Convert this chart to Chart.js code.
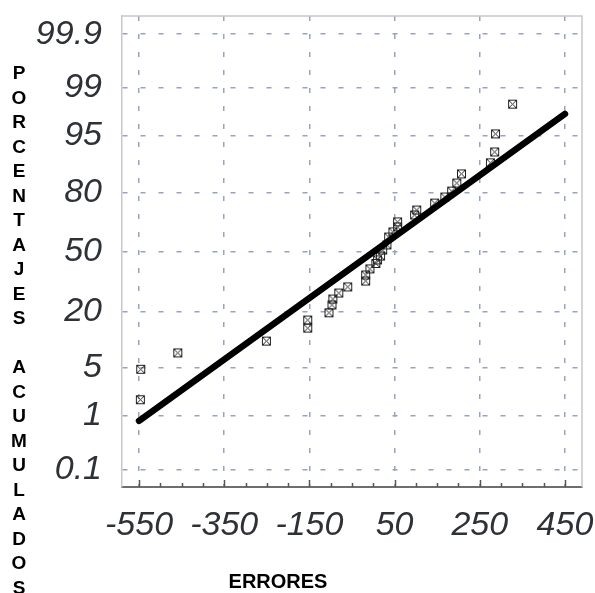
<!DOCTYPE html>
<html><head><meta charset="utf-8">
<script src="https://cdn.jsdelivr.net/npm/chart.js@4/dist/chart.umd.min.js"></script>
<style>html,body{margin:0;padding:0;background:#fff}#wrap{width:595px;height:593px;position:relative}</style>
</head><body><div id="wrap"><canvas id="c" width="595" height="593"></canvas></div>
<script>
// ---- data ----
const errores = [-547,-546,-459,-251,-154,-154,-104,-97,-95,-81,-60,-18,-18,-8,6,10,17,22,32,36,46,57,57,97,102,144,168,184,196,207,275,285,287,327];
const porcentajes = [1.8,4.8,7.6,10.3,14.0,16.7,19.4,22.6,25.2,28.0,31.0,34.0,37.2,40.5,43.5,45.5,47.7,51.1,54.0,58.4,61.2,63.9,66.5,70.0,72.4,75.6,78.2,80.6,83.6,86.6,89.7,92.2,95.3,98.2];
const lineaErrores = [-550, 450];
const lineaPorcentajes = [0.83, 97.5];
const yTickPercent = [0.1, 1, 5, 20, 50, 80, 95, 99, 99.9];
const yTickLabels = ['0.1', '1', '5', '20', '50', '80', '95', '99', '99.9'];
const xTickLabels = [-550, -350, -150, 50, 250, 450];
const xMinorStep = 50;
const xTitle = 'ERRORES';
const yTitle = 'PORCENTAJES ACUMULADOS';

// inverse normal CDF (probability-paper scale)
function probit(p){
  const a=[-3.969683028665376e+01,2.209460984245205e+02,-2.759285104469687e+02,1.383577518672690e+02,-3.066479806614716e+01,2.506628277459239e+00];
  const b=[-5.447609879822406e+01,1.615858368580409e+02,-1.556989798598866e+02,6.680131188771972e+01,-1.328068155288572e+01];
  const c=[-7.784894002430293e-03,-3.223964580411365e-01,-2.400758277161838e+00,-2.549732539343734e+00,4.374664141464968e+00,2.938163982698783e+00];
  const d=[7.784695709041462e-03,3.224671290700398e-01,2.445134137142996e+00,3.754408661907416e+00];
  const pl=0.02425, ph=1-pl; let q,r;
  if(p<pl){q=Math.sqrt(-2*Math.log(p));return (((((c[0]*q+c[1])*q+c[2])*q+c[3])*q+c[4])*q+c[5])/((((d[0]*q+d[1])*q+d[2])*q+d[3])*q+1);}
  if(p<=ph){q=p-0.5;r=q*q;return (((((a[0]*r+a[1])*r+a[2])*r+a[3])*r+a[4])*r+a[5])*q/(((((b[0]*r+b[1])*r+b[2])*r+b[3])*r+b[4])*r+1);}
  q=Math.sqrt(-2*Math.log(1-p));return -(((((c[0]*q+c[1])*q+c[2])*q+c[3])*q+c[4])*q+c[5])/((((d[0]*q+d[1])*q+d[2])*q+d[3])*q+1);
}

function makeMarker(){
  const c=document.createElement('canvas'); c.width=11; c.height=11;
  const g=c.getContext('2d');
  g.strokeStyle='#222'; g.lineWidth=1;
  g.strokeRect(1.5,1.5,8,8);
  g.beginPath(); g.moveTo(2,2); g.lineTo(9,9); g.moveTo(9,2); g.lineTo(2,9); g.stroke();
  return c;
}

const FONT='"Liberation Sans", Arial, Helvetica, sans-serif';
const GRID='#98a3c0';

const decor = {
  id:'decor',
  afterDraw(chart){
    const {ctx, chartArea:a, scales:{x}} = chart;
    ctx.save();
    ctx.strokeStyle='#c8c8c8'; ctx.lineWidth=1.5;
    ctx.beginPath(); ctx.moveTo(a.left,a.top); ctx.lineTo(a.right,a.top); ctx.lineTo(a.right,a.bottom); ctx.stroke();
    ctx.strokeStyle='#555'; ctx.lineWidth=1.5;
    x.ticks.forEach(t=>{
      const px=Math.round(x.getPixelForValue(t.value))+0.5;
      const len = xTickLabels.includes(t.value) ? 7 : 4;
      ctx.beginPath(); ctx.moveTo(px,a.bottom); ctx.lineTo(px,a.bottom-len); ctx.stroke();
    });
    ctx.fillStyle='#000'; ctx.textAlign='center'; ctx.textBaseline='alphabetic';
    ctx.font='bold 20px '+FONT;
    ctx.fillText(xTitle, 278, 588);
    ctx.font='bold 19px '+FONT;
    [...yTitle].forEach((ch,i)=>{ if(ch!==' ') ctx.fillText(ch, 19, 79 + i*24.5); });
    ctx.restore();
  }
};

new Chart(document.getElementById('c'), {
  type:'scatter',
  data:{datasets:[
    { label:'ajuste', data: lineaErrores.map((e,i)=>({x:e, y:probit(lineaPorcentajes[i]/100)})),
      showLine:true, borderColor:'#000', borderWidth:6.5, borderCapStyle:'round', pointRadius:0, order:0 },
    { label:'datos', data: errores.map((e,i)=>({x:e, y:probit(porcentajes[i]/100)})),
      pointStyle: makeMarker(), pointRadius:5, order:1 }
  ]},
  options:{
    responsive:false, animation:false,
    layout:{padding:{left:0, top:16, right:13, bottom:0}},
    plugins:{legend:{display:false}, tooltip:{enabled:false}},
    scales:{
      x:{ type:'linear', min:-590, max:490,
        afterBuildTicks: s=>{ const t=[]; for(let v=xTickLabels[0]; v<=xTickLabels[xTickLabels.length-1]; v+=xMinorStep) t.push({value:v}); s.ticks=t; },
        ticks:{ autoSkip:false, maxRotation:0, padding:18, color:'#2e3136',
          font:{family:FONT, size:34, style:'italic'},
          callback: v => xTickLabels.includes(v) ? String(v) : '' },
        grid:{ color: c => (c.tick && xTickLabels.includes(c.tick.value)) ? GRID : 'rgba(0,0,0,0)', lineWidth:1.5, drawTicks:false },
        border:{ display:true, color:'#6e6e6e', width:2, dash:[5,13] },
        afterFit: s=>{ s.height = 106; s.paddingLeft = 0; s.paddingRight = 0; }
      },
      y:{ type:'linear', min:-3.335, max:3.348,
        afterBuildTicks: s=>{ s.ticks = yTickPercent.map(p=>({value:probit(p/100)})); },
        ticks:{ autoSkip:false, padding:20, color:'#2e3136',
          font:{family:FONT, size:34, style:'italic'},
          callback: (v,i) => yTickLabels[i] },
        grid:{ color:GRID, lineWidth:1.5, drawTicks:false },
        border:{ display:true, color:'#c8c8c8', width:1.5, dash:[5,13] },
        afterFit: s=>{ s.width = 122; s.paddingTop = 0; s.paddingBottom = 0; }
      }
    }
  },
  plugins:[decor]
});
</script>
</body></html>
